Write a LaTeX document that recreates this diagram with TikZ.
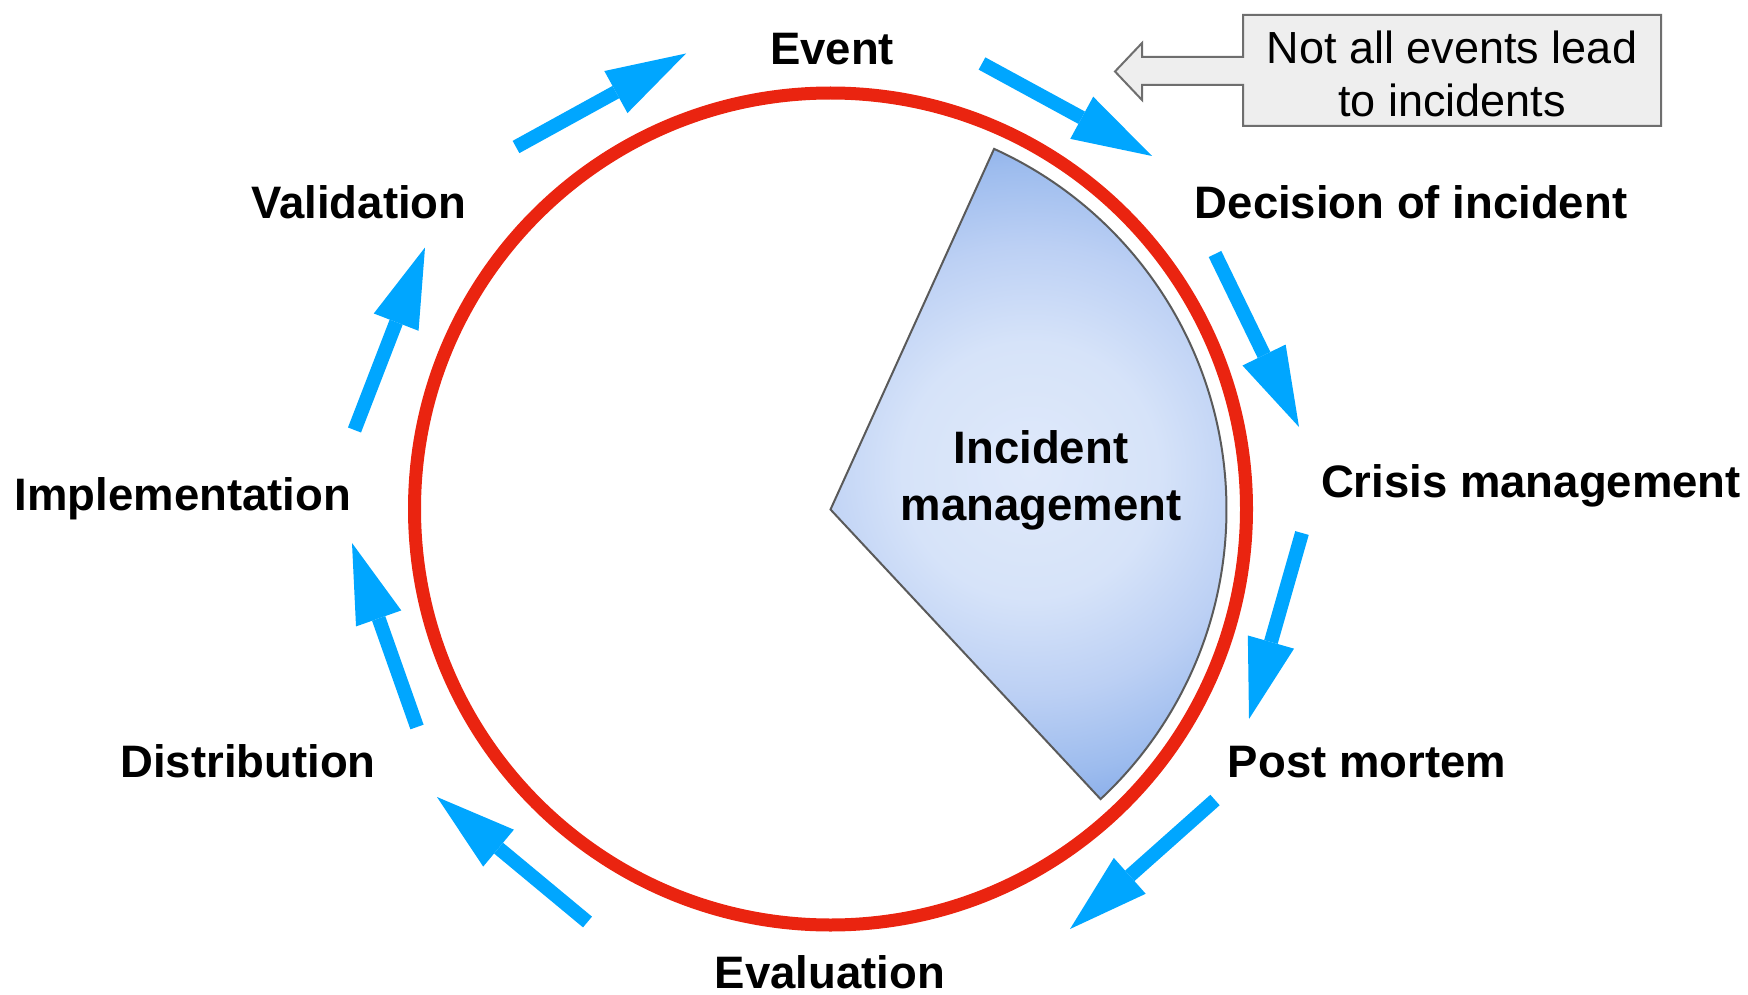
\documentclass[tikz,border=0pt]{standalone}
\usepackage{fontspec}
\setmainfont{Liberation Sans}
\usetikzlibrary{arrows.meta}

\definecolor{ringred}{RGB}{234,36,16}
\definecolor{flowblue}{RGB}{0,166,255}
\definecolor{secA}{RGB}{223,233,250}
\definecolor{secB}{RGB}{214,227,249}
\definecolor{secC}{RGB}{188,208,244}
\definecolor{secD}{RGB}{157,188,238}
\definecolor{secE}{RGB}{134,171,233}
\definecolor{edgegray}{RGB}{90,90,90}
\definecolor{notefill}{RGB}{238,238,238}
\definecolor{noteedge}{RGB}{110,110,110}

% soft radial fill for the sector; the middle 50bp square is stretched
% over an 800 x 800 square, so 1bp corresponds to 16 units
\pgfdeclareradialshading{sectorglow}{\pgfpoint{0bp}{0bp}}{%
  color(0bp)=(secA); color(8bp)=(secB); color(14bp)=(secC);
  color(19bp)=(secD); color(22bp)=(secE); color(50bp)=(secE)}

\begin{document}
\begin{tikzpicture}[x=1pt,y=1pt,
  stage/.style={font=\fontsize{45.5}{57}\selectfont\bfseries, anchor=base, inner sep=0pt},
  flow/.style={draw=flowblue, fill=flowblue, line width=14pt,
    -{Triangle[length=80pt,width=48pt,line width=0pt]}},
  ring/.style={draw=ringred, line width=13pt},
  notebox/.style={fill=notefill, draw=noteedge, line width=2pt},
  notetext/.style={font=\fontsize{45}{52.5}\selectfont, align=center, inner sep=0pt}]

\useasboundingbox (0,0) rectangle (1748,-995);

% outer cycle ring
\draw[ring] (830.5,-509) circle[radius=416];

% incident management sector
\coordinate (ctr) at (830.5,-509.5);
\begin{scope}
  \clip (ctr) -- ++(65.6:396) arc[start angle=65.6, end angle=-47, radius=396] -- cycle;
  \shade[shading=sectorglow] (630,-70) rectangle (1430,-870);
\end{scope}
\draw[edgegray, line width=2pt, line join=miter]
  (ctr) -- ++(65.6:396) arc[start angle=65.6, end angle=-47, radius=396] -- cycle;
\node[font=\fontsize{45.5}{57}\selectfont\bfseries, align=center, inner sep=0pt]
  (im) at (1041,-480.5) {Incident\\management};

% stage labels
\node[stage] (event) at (832,-65) {Event};
\node[stage] (decision) at (1411,-218.5) {Decision of incident};
\node[stage] (crisis) at (1531,-497) {Crisis management};
\node[stage] (post) at (1367,-777) {Post mortem};
\node[stage] (evaluation) at (830,-988) {Evaluation};
\node[stage] (distribution) at (248,-777) {Distribution};
\node[stage] (implementation) at (183,-510) {Implementation};
\node[stage] (validation) at (359,-218.5) {Validation};

% flow arrow end points
\coordinate (v2e-a) at (516,-147);   \coordinate (v2e-b) at (686,-53.5);
\coordinate (e2d-a) at (982,-63.5);  \coordinate (e2d-b) at (1152,-156);
\coordinate (d2c-a) at (1215,-254);  \coordinate (d2c-b) at (1299,-427);
\coordinate (c2p-a) at (1302,-533);  \coordinate (c2p-b) at (1249,-719);
\coordinate (p2v-a) at (1215,-800);  \coordinate (p2v-b) at (1070,-929);
\coordinate (v2d-a) at (587.5,-922); \coordinate (v2d-b) at (437,-797);
\coordinate (d2i-a) at (417,-727);   \coordinate (d2i-b) at (352,-543);
\coordinate (i2v-a) at (354.5,-430); \coordinate (i2v-b) at (425,-247.5);

\draw[flow] (v2e-a) -- (v2e-b);
\draw[flow] (e2d-a) -- (e2d-b);
\draw[flow] (d2c-a) -- (d2c-b);
\draw[flow] (c2p-a) -- (c2p-b);
\draw[flow] (p2v-a) -- (p2v-b);
\draw[flow] (v2d-a) -- (v2d-b);
\draw[flow] (d2i-a) -- (d2i-b);
\draw[flow] (i2v-a) -- (i2v-b);

% callout note with left-pointing arrow
\draw[notebox] (1243,-15) -- (1661,-15) -- (1661,-126) -- (1243,-126)
  -- (1243,-85) -- (1142,-85) -- (1142,-100) -- (1115,-71.5) -- (1142,-43)
  -- (1142,-57) -- (1243,-57) -- cycle;
\node[notetext] (note) at (1452,-74) {Not all events lead\\to incidents};

\end{tikzpicture}
\end{document}
